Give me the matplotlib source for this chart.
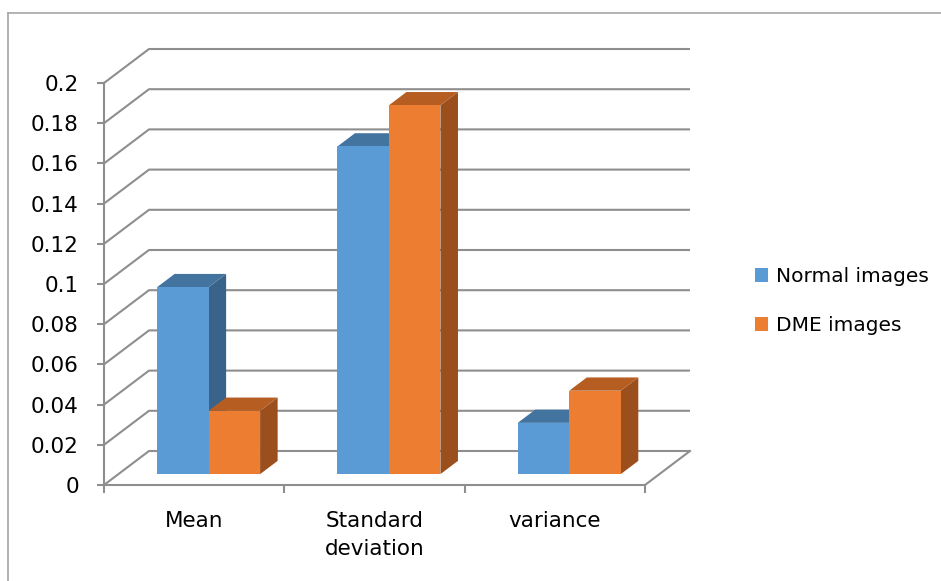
import matplotlib
matplotlib.use("Agg")
import matplotlib.pyplot as plt
from matplotlib.patches import Polygon, Patch
from matplotlib.lines import Line2D

categories = ["Mean", "Standard\ndeviation", "variance"]
series_names = ["Normal images", "DME images"]
normal_vals = [0.093, 0.163, 0.0255]
dme_vals = [0.0315, 0.1835, 0.0415]
y_ticks = [0, 0.02, 0.04, 0.06, 0.08, 0.1, 0.12, 0.14, 0.16, 0.18, 0.2]
y_tick_labels = ["0", "0.02", "0.04", "0.06", "0.08", "0.1", "0.12", "0.14", "0.16", "0.18", "0.2"]

front_cols = ["#5B9BD5", "#ED7D31"]
top_cols = ["#4374A0", "#B65D22"]
side_cols = ["#3A6389", "#9B4F1D"]
grid_col = "#8E8E8E"

plt.rcParams['font.family'] = ['DejaVu Sans']
W, H = 941, 581
fig = plt.figure(figsize=(W / 100, H / 100), dpi=100)
fig.patch.set_facecolor("white")

# front plane axes: x 0..3 categories, y 0..0.2
left_px, right_px, top_px, bot_px = 104, 645, 83, 485
ax = fig.add_axes([left_px / W, 1 - bot_px / H, (right_px - left_px) / W, (bot_px - top_px) / H])
ax.set_xlim(0, 3)
ax.set_ylim(0, 0.2)
ax.set_facecolor("none")

# depth offsets in data units
px_per_cat = (right_px - left_px) / 3
px_per_val = (bot_px - top_px) / 0.2
DX = 45 / px_per_cat
DY = 34 / px_per_val

# walls: gridlines on left wall and back wall
for v in y_ticks:
    ax.plot([0, DX, 3 + DX], [v, v + DY, v + DY], color=grid_col, lw=1.5,
            clip_on=False, zorder=1, solid_capstyle="butt")
# floor right edge
ax.plot([3, 3 + DX], [0, DY], color=grid_col, lw=1.5, clip_on=False, zorder=1)

# bars
f0, f1 = 0.32, 0.71
w = 1 / 3.5
for ci in range(len(categories)):
    for si, vals in enumerate([normal_vals, dme_vals]):
        v = vals[ci]
        x0 = ci + 0.5 - w + si * w
        x1 = x0 + w
        fx, fy = f0 * DX, f0 * DY
        bx, by = f1 * DX, f1 * DY
        side = Polygon([(x1 + fx, fy), (x1 + fx, v + fy), (x1 + bx, v + by), (x1 + bx, by)],
                       closed=True, fc=side_cols[si], ec="none", clip_on=False, zorder=3)
        top = Polygon([(x0 + fx, v + fy), (x1 + fx, v + fy), (x1 + bx, v + by), (x0 + bx, v + by)],
                      closed=True, fc=top_cols[si], ec="none", clip_on=False, zorder=3)
        front = Polygon([(x0 + fx, fy), (x1 + fx, fy), (x1 + fx, v + fy), (x0 + fx, v + fy)],
                        closed=True, fc=front_cols[si], ec="none", clip_on=False, zorder=3)
        for p in (side, top, front):
            ax.add_patch(p)

# spines
for s in ["top", "right"]:
    ax.spines[s].set_visible(False)
for s in ["left", "bottom"]:
    ax.spines[s].set_color(grid_col)
    ax.spines[s].set_linewidth(1.5)
    ax.spines[s].set_zorder(2)

FS = 15.5
ax.set_yticks(y_ticks)
ax.set_yticklabels(y_tick_labels)
ax.tick_params(axis="y", direction="out", length=5, width=1.5, color=grid_col,
               labelsize=FS, pad=13, labelcolor="black")
ax.set_xticks([0, 1, 2, 3])
ax.set_xticklabels([])
ax.tick_params(axis="x", which="major", direction="out", length=5.5, width=1.5, color=grid_col)
ax.set_xticks([0.5, 1.5, 2.5], minor=True)
ax.set_xticklabels(categories, minor=True, fontsize=FS, linespacing=1.5)
ax.tick_params(axis="x", which="minor", length=0, pad=19, labelcolor="black")

# legend
handles = [Patch(facecolor=front_cols[i], edgecolor="none", label=series_names[i]) for i in range(2)]
fig.legend(handles=handles, loc="center left", bbox_to_anchor=(737 / W, 1 - 301 / H),
           frameon=False, fontsize=14.5, handlelength=0.65, handleheight=0.65,
           handletextpad=0.4, labelspacing=1.5)

# chart border
border_col = "#A6A6A6"
fig.add_artist(Line2D([8 / W, 1], [1 - 13 / H, 1 - 13 / H], color=border_col, lw=1.2,
                      transform=fig.transFigure))
fig.add_artist(Line2D([8 / W, 8 / W], [0, 1 - 13 / H], color=border_col, lw=1.2,
                      transform=fig.transFigure))

fig.savefig("out.png", dpi=100, facecolor="white")
